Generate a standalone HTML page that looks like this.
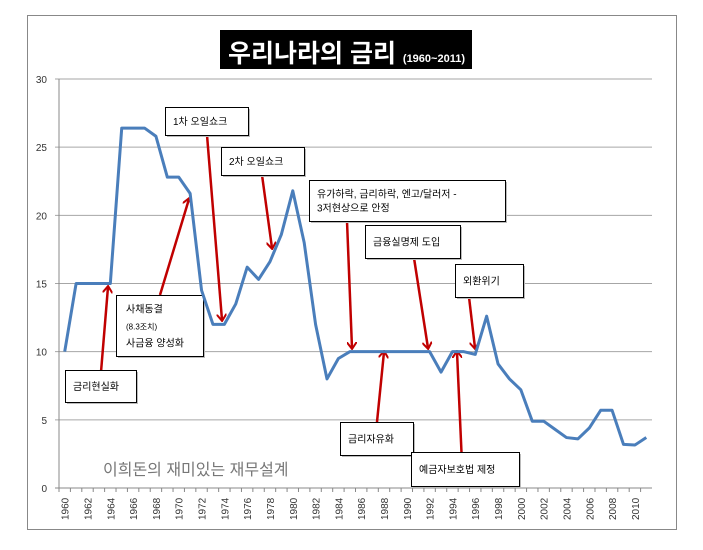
<!DOCTYPE html>
<html><head><meta charset="utf-8"><style>
body{margin:0;background:#fff;width:703px;height:545px;overflow:hidden;font-family:"Liberation Sans","Noto Sans CJK KR",sans-serif}
svg text{font-family:"Liberation Sans","Noto Sans CJK KR",sans-serif}
</style></head><body>
<svg id="c" width="703" height="545">
<defs><marker id="ah" markerWidth="8" markerHeight="10" refX="6" refY="5" orient="auto" markerUnits="userSpaceOnUse"><path d="M0,0 L7,5 L0,10" fill="none" stroke="#c00000" stroke-width="2"/></marker></defs>
<rect x="27.5" y="15.5" width="649" height="514" fill="#fff" stroke="#888"/>
<g id="grid"></g><g id="xt"></g><g id="ann"></g><g id="ln"></g>
<rect x="220" y="30" width="252" height="39" fill="#000"/>
<text x="228" y="62" fill="#fff" font-size="25" font-weight="bold">우리나라의 금리 <tspan font-size="11">(1960~2011)</tspan></text>
<text x="103" y="475" fill="#777" font-size="16">이희돈의 재미있는 재무설계</text>
</svg>
<script>
const years=[];for(let y=1960;y<=2011;y++)years.push(y);
const rates=[10,15,15,15,15,26.4,26.4,26.4,25.8,22.8,22.8,21.6,14.5,12,12,13.5,16.2,15.3,16.6,18.6,21.8,18,12,8,9.5,10,10,10,10,10,10,10,10,8.5,10,10,9.8,12.6,9.1,8,7.2,4.9,4.9,4.3,3.7,3.6,4.4,5.7,5.7,3.2,3.15,3.7];
const yTicks=[0,5,10,15,20,25,30];
const NS='http://www.w3.org/2000/svg';
const X0=59,X1=652,Y0=488,Y1=79;
const bw=(X1-X0)/years.length;
const xs=i=>X0+(i+0.5)*bw, ys=v=>Y0-(v/30)*(Y0-Y1);
function mk(t,a,p){const e=document.createElementNS(NS,t);for(const k in a)e.setAttribute(k,a[k]);p.appendChild(e);return e;}
const g=document.getElementById('grid');
yTicks.forEach(v=>{
 const l=mk('line',{x1:X0-4,x2:X1,y1:ys(v),y2:ys(v),stroke:v?'#a6a6a6':'#888','stroke-width':1},g);
 
 
 const t=mk('text',{x:47,y:ys(v)+4,'text-anchor':'end','font-size':10,fill:'#333'},g);t.textContent=v;
 
 
});
mk('line',{x1:X0,x2:X0,y1:Y1,y2:Y0,stroke:'#888'},g);
const xt=document.getElementById('xt');
years.forEach((y,i)=>{
 mk('line',{x1:X0+i*bw,x2:X0+i*bw,y1:Y0,y2:Y0+4,stroke:'#888'},xt);
 if(i%2==0){const t=mk('text',{transform:`translate(${xs(i)+4},${Y0+32}) rotate(-90)`,'font-size':10,fill:'#333'},xt);t.textContent=y;
 
 }
});
const p=mk('polyline',{points:rates.map((v,i)=>xs(i)+','+ys(v)).join(' '),fill:'none',stroke:'#4a7ebb','stroke-width':3,'stroke-linejoin':'round'},document.getElementById('ln'));


const A=document.getElementById('ann');
const boxes=[
 [165,107,83,28,['1차 오일쇼크'],'oil-shock-1'],
 [221,147,83,28,['2차 오일쇼크'],'oil-shock-2'],
 [309,180,196,41,['유가하락, 금리하락, 엔고/달러저 -','3저현상으로 안정'],'three-lows'],
 [365,225,95,33,['금융실명제 도입'],'real-name'],
 [455,264,68,33,['외환위기'],'fx-crisis'],
 [116,295,87,61,['사채동결','(8.3조치)','사금융 양성화'],'private-debt'],
 [65,370,71,32,['금리현실화'],'rate-realization'],
 [340,422,73,33,['금리자유화'],'rate-liberalization'],
 [411,452,108,34,['예금자보호법 제정'],'deposit-protection']];
const arrows=[[101,372,108,287],[160,295,189,199],[207,135,222,320],[262,175,272,248],[347,221,352,348],[414,258,428,348],[469,297,475,348],[377,422,384,352],[463,486,457,352]];
arrows.forEach((a,i)=>{const l=mk('line',{x1:a[0],y1:a[1],x2:a[2],y2:a[3],stroke:'#c00000','stroke-width':2.5,'marker-end':'url(#ah)'},A);
 
 });
boxes.forEach(b=>{
 mk('rect',{x:b[0]+2,y:b[1]+2,width:b[2],height:b[3],fill:'#bbb'},A);
 const r=mk('rect',{x:b[0]+.5,y:b[1]+.5,width:b[2],height:b[3],fill:'#fff',stroke:'#000'},A);
 
 
 const n=b[4].length, lh=n==3?17:14, top=b[1]+b[3]/2-(n-1)*lh/2+4;
 b[4].forEach((s,j)=>{const t=mk('text',{x:b[0]+(n==3?10:8),y:top+j*lh,'font-size':n==3&&j==1?8:10,fill:'#000'},A);t.textContent=s;});
});
</script>
</body></html>
